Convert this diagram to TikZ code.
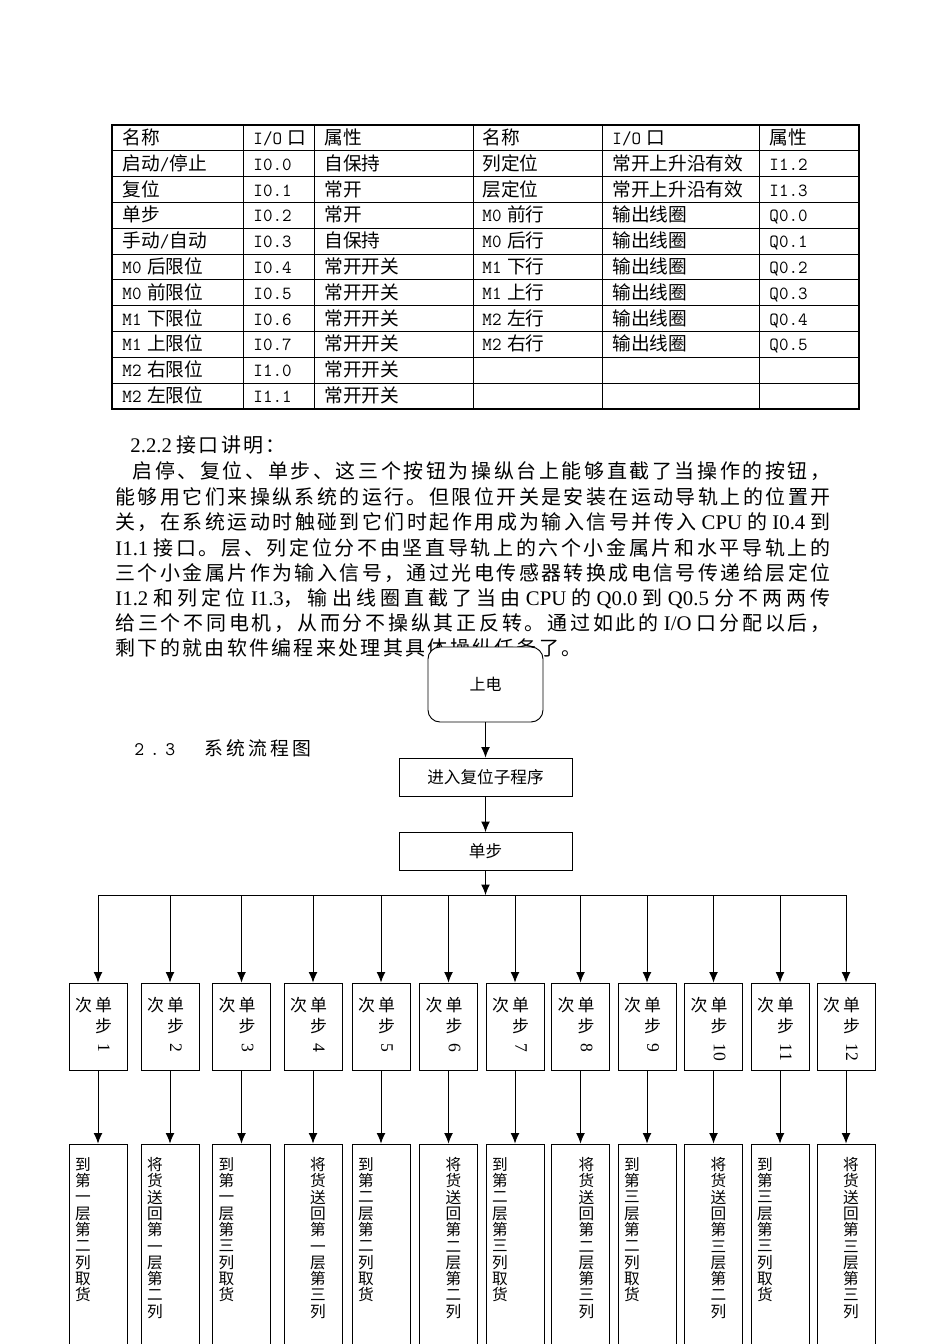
\documentclass[tikz,border=0pt]{standalone}
\usepackage{fontspec}
\setmainfont{Liberation Serif}
\newfontfamily\cjk{Noto Sans CJK SC}
\usetikzlibrary{arrows.meta}

\newlength\unitpx
\setlength\unitpx{0.626pt}
\newcommand\asc[1]{{\fontsize{11.6}{14}\selectfont\ttfamily #1}}
\newcommand\lat[1]{{\fontsize{13}{15}\selectfont\rmfamily #1}}
% glue between CJK characters: \cjkgap wide, and it stretches for the justified lines
\newcount\cjkcode
\cjkcode="4E00
\loop
	\XeTeXcharclass\cjkcode=7
	\advance\cjkcode by 1
\ifnum\cjkcode<"A000
\repeat
\XeTeXcharclass"3001=7
\XeTeXcharclass"3002=7
\XeTeXcharclass"FF0C=7
\XeTeXcharclass"FF1A=7
\def\cjkgap{0pt}
\XeTeXinterchartokenstate=1
\XeTeXinterchartoks 7 7 = {\hskip \cjkgap plus 1fil\relax}

\begin{document}
\begin{tikzpicture}[x=0.626pt, y=-0.626pt, line width=0.6pt, >={Latex[length=6.5pt,width=5.5pt]}]
	\tikzstyle{cell}=[inner sep=0pt, anchor=base west, font=\cjk\fontsize{11.7}{14}\selectfont]
	\tikzstyle{para}=[inner sep=0pt, anchor=base west, font=\def\cjkgap{0.117em}\cjk\fontsize{12.5}{15}\selectfont]
	\tikzstyle{startbox}=[draw, fill=white, rounded corners=7.5pt, minimum width=115\unitpx, minimum height=75\unitpx, font=\cjk\fontsize{10}{12}\selectfont]
	\tikzstyle{procbox}=[draw, fill=white, minimum width=173\unitpx, minimum height=38\unitpx, font=\cjk\fontsize{10.4}{12}\selectfont]
	\tikzstyle{stepbox}=[draw, minimum width=58\unitpx, minimum height=87\unitpx]
	\tikzstyle{taskbox}=[draw, minimum width=58\unitpx, minimum height=206\unitpx]
	\tikzstyle{lbl}=[inner sep=0pt, font=\cjk\fontsize{10.6}{13.1}\selectfont]
	\tikzstyle{vlbl}=[inner sep=0pt, align=center, anchor=north, font=\cjk\fontsize{9.8}{10.2}\selectfont]

	\useasboundingbox (0,0) rectangle (950,1344);
	\clip (0,0) rectangle (950,1344);
	\fill[white] (0,0) rectangle (950,1344);

	% I/O table
	\draw[line width=1.2pt] (112,125) rectangle (859,409);
	\foreach \k in {1,...,10}
		\draw (112,125+25.82*\k) -- (859,125+25.82*\k);
	\foreach \x in {243,314,473,602,759}
		\draw (\x,125) -- (\x,409);
	\foreach \r/\na/\ia/\pa in {0/名称/\asc{I/O}\hspace{3.5pt}口/属性,
		1/启动\asc{/}停止/\asc{I0.0}/自保持,
		2/复位/\asc{I0.1}/常开,
		3/单步/\asc{I0.2}/常开,
		4/手动\asc{/}自动/\asc{I0.3}/自保持,
		5/\asc{M0}\hspace{3.5pt}后限位/\asc{I0.4}/常开开关,
		6/\asc{M0}\hspace{3.5pt}前限位/\asc{I0.5}/常开开关,
		7/\asc{M1}\hspace{3.5pt}下限位/\asc{I0.6}/常开开关,
		8/\asc{M1}\hspace{3.5pt}上限位/\asc{I0.7}/常开开关,
		9/\asc{M2}\hspace{3.5pt}右限位/\asc{I1.0}/常开开关,
		10/\asc{M2}\hspace{3.5pt}左限位/\asc{I1.1}/常开开关}{
		\node[cell] (na\r) at (122,144.4+25.82*\r) {\na};
		\node[cell] (ia\r) at (253,144.4+25.82*\r) {\ia};
		\node[cell] (pa\r) at (324,144.4+25.82*\r) {\pa};
	}
	\foreach \r/\nb/\ib/\pb in {0/名称/\asc{I/O}\hspace{3.5pt}口/属性,
		1/列定位/常开上升沿有效/\asc{I1.2},
		2/层定位/常开上升沿有效/\asc{I1.3},
		3/\asc{M0}\hspace{3.5pt}前行/输出线圈/\asc{Q0.0},
		4/\asc{M0}\hspace{3.5pt}后行/输出线圈/\asc{Q0.1},
		5/\asc{M1}\hspace{3.5pt}下行/输出线圈/\asc{Q0.2},
		6/\asc{M1}\hspace{3.5pt}上行/输出线圈/\asc{Q0.3},
		7/\asc{M2}\hspace{3.5pt}左行/输出线圈/\asc{Q0.4},
		8/\asc{M2}\hspace{3.5pt}右行/输出线圈/\asc{Q0.5}}{
		\node[cell] (nb\r) at (482,144.4+25.82*\r) {\nb};
		\node[cell] (ib\r) at (612,144.4+25.82*\r) {\ib};
		\node[cell] (pb\r) at (769,144.4+25.82*\r) {\pb};
	}

	% text
	\node[para] (h1) at (130,452) {\lat{2.2.2} 接口讲明：};
	\node[para] (l1) at (132,478) {\hbox to 437pt{启停、复位、单步、这三个按钮为操纵台上能够直截了当操作的按钮，}};
	\node[para] (l2) at (115,504) {\hbox to 447.6pt{能够用它们来操纵系统的运行。但限位开关是安装在运动导轨上的位置开}};
	\node[para] (l3) at (115,529) {\hbox to 447.6pt{关，在系统运动时触碰到它们时起作用成为输入信号并传入\lat{ CPU }的\lat{ I0.4 }到}};
	\node[para] (l4) at (115,555) {\hbox to 447.6pt{\lat{I1.1 }接口。层、列定位分不由坚直导轨上的六个小金属片和水平导轨上的}};
	\node[para] (l5) at (115,580) {\hbox to 447.6pt{三个小金属片作为输入信号，通过光电传感器转换成电信号传递给层定位}};
	\node[para] (l6) at (115,605) {\hbox to 447.6pt{\lat{I1.2 }和列定位\lat{ I1.3}，输出线圈直截了当由\lat{ CPU }的\lat{ Q0.0 }到\lat{ Q0.5 }分不两两传}};
	\node[para] (l7) at (115,630) {\hbox to 447.6pt{给三个不同电机，从而分不操纵其正反转。通过如此的\lat{ I/O }口分配以后，}};
	\node[para] (l8) at (115,655) {剩下的就由软件编程来处理其具体操纵任务了。};
	\node[inner sep=0pt, anchor=base west] (sec) at (134,755) {{\fontsize{12}{14}\selectfont\ttfamily 2\kern3.5pt.\kern3.5pt3}\hspace{18pt}{\def\cjkgap{0.17em}\cjk\fontsize{11.8}{14}\selectfont 系统流程图}};

	% flow chart
	\node[startbox] (pw) at (485.5,684.5) {上电};
	\node[procbox] (rst) at (485.5,777) {进入复位子程序};
	\node[procbox] (step) at (485.5,851.5) {单步};
	\coordinate (br) at (485.5,895);
	\draw[->] (pw) -- (rst);
	\draw[->] (rst) -- (step);
	\draw[->] (step) -- (br);

	\foreach \i/\x in {1/98,2/170,3/241.5,4/313,5/381,6/448.5,7/515,8/580.5,9/647,10/713.5,11/780,12/846}{
		\coordinate (b\i) at (\x,895);
		\node[stepbox] (s\i) at (\x,1026.5) {};
		\node[taskbox] (t\i) at (\x,1247) {};
		\node[lbl] (sc\i) at (\x-14.5,1005) {次};
		\node[lbl, align=center, anchor=north] (sd\i) at (\x+5.5,996.5) {单\\步};
		\node[lbl, rotate=-90, anchor=west, font=\rmfamily\fontsize{11}{12}\selectfont] (sn\i) at (\x+6,1043.5) {\i};
		\draw[->] (b\i) -- (s\i);
		\draw[->] (s\i) -- (t\i);
	}
	\draw (b1) -- (b12);

	\foreach \i/\x/\txt in {1/83/到\\第\\一\\层\\第\\二\\列\\取\\货,
		2/155/将\\货\\送\\回\\第\\一\\层\\第\\二\\列,
		3/226.5/到\\第\\一\\层\\第\\三\\列\\取\\货,
		4/318/将\\货\\送\\回\\第\\一\\层\\第\\三\\列,
		5/366/到\\第\\二\\层\\第\\二\\列\\取\\货,
		6/453.5/将\\货\\送\\回\\第\\二\\层\\第\\二\\列,
		7/500/到\\第\\二\\层\\第\\三\\列\\取\\货,
		8/586.5/将\\货\\送\\回\\第\\二\\层\\第\\三\\列,
		9/632/到\\第\\三\\层\\第\\二\\列\\取\\货,
		10/718.5/将\\货\\送\\回\\第\\三\\层\\第\\二\\列,
		11/765/到\\第\\三\\层\\第\\三\\列\\取\\货,
		12/851/将\\货\\送\\回\\第\\三\\层\\第\\三\\列}
		\node[vlbl] (tt\i) at (\x,1157) {\txt};
\end{tikzpicture}
\end{document}
